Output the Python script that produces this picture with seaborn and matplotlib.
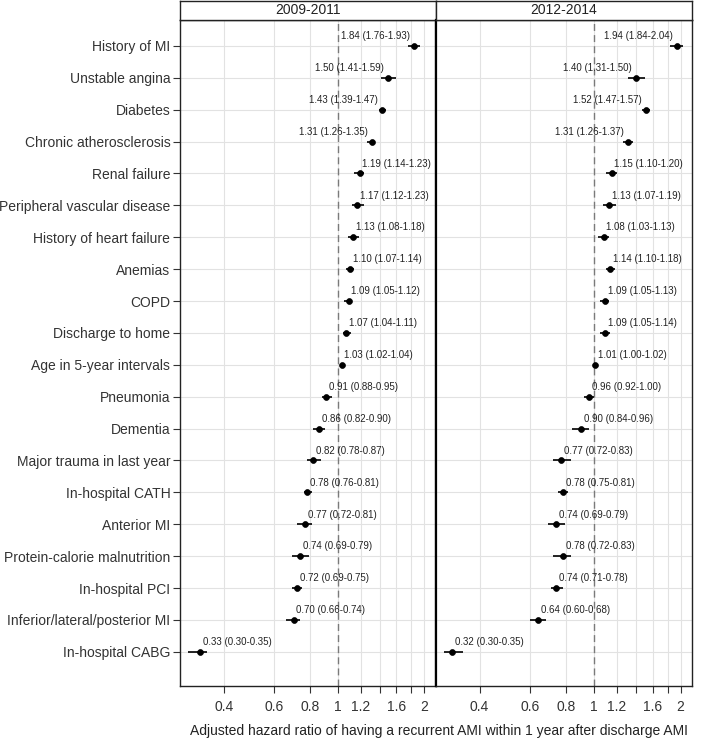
import numpy as np
import pandas as pd
import matplotlib
matplotlib.use("Agg")
import matplotlib.pyplot as plt
from matplotlib.ticker import NullLocator, FixedLocator, FixedFormatter
import seaborn as sns

sns.set_theme(style="white")
plt.rcParams['font.family'] = ['Liberation Sans', 'DejaVu Sans']

factors = [
    "History of MI", "Unstable angina", "Diabetes", "Chronic atherosclerosis",
    "Renal failure", "Peripheral vascular disease", "History of heart failure",
    "Anemias", "COPD", "Discharge to home", "Age in 5-year intervals",
    "Pneumonia", "Dementia", "Major trauma in last year", "In-hospital CATH",
    "Anterior MI", "Protein-calorie malnutrition", "In-hospital PCI",
    "Inferior/lateral/posterior MI", "In-hospital CABG",
]
periods = ["2009-2011", "2012-2014"]

hr_0911 = [1.84, 1.50, 1.43, 1.31, 1.19, 1.17, 1.13, 1.10, 1.09, 1.07,
           1.03, 0.91, 0.86, 0.82, 0.78, 0.77, 0.74, 0.72, 0.70, 0.33]
lo_0911 = [1.76, 1.41, 1.39, 1.26, 1.14, 1.12, 1.08, 1.07, 1.05, 1.04,
           1.02, 0.88, 0.82, 0.78, 0.76, 0.72, 0.69, 0.69, 0.66, 0.30]
hi_0911 = [1.93, 1.59, 1.47, 1.35, 1.23, 1.23, 1.18, 1.14, 1.12, 1.11,
           1.04, 0.95, 0.90, 0.87, 0.81, 0.81, 0.79, 0.75, 0.74, 0.35]

hr_1214 = [1.94, 1.40, 1.52, 1.31, 1.15, 1.13, 1.08, 1.14, 1.09, 1.09,
           1.01, 0.96, 0.90, 0.77, 0.78, 0.74, 0.78, 0.74, 0.64, 0.32]
lo_1214 = [1.84, 1.31, 1.47, 1.26, 1.10, 1.07, 1.03, 1.10, 1.05, 1.05,
           1.00, 0.92, 0.84, 0.72, 0.75, 0.69, 0.72, 0.71, 0.60, 0.30]
hi_1214 = [2.04, 1.50, 1.57, 1.37, 1.20, 1.19, 1.13, 1.18, 1.13, 1.14,
           1.02, 1.00, 0.96, 0.83, 0.81, 0.79, 0.83, 0.78, 0.68, 0.35]

x_ticks = [0.4, 0.6, 0.8, 1, 1.2, 1.4, 1.6, 1.8, 2]
x_tick_labels = ["0.4", "0.6", "0.8", "1", "1.2", "", "1.6", "", "2"]

frames = []
for period, hr, lo, hi in [(periods[0], hr_0911, lo_0911, hi_0911),
                           (periods[1], hr_1214, lo_1214, hi_1214)]:
    frames.append(pd.DataFrame({"factor": factors, "period": period,
                                "hr": hr, "lo": lo, "hi": hi,
                                "pos": np.arange(len(factors))}))
df = pd.concat(frames, ignore_index=True)

W, H = 709, 742
fig = plt.figure(figsize=(W / 100, H / 100), dpi=100)
fig.patch.set_facecolor("white")


def rect(x0, y0, x1, y1):
    return [x0 / W, 1 - y1 / H, (x1 - x0) / W, (y1 - y0) / H]


panel_px = [(180, 435.5), (435.5, 692)]
top_px, bot_px = 20, 686
tick_col = "#333333"

for i, period in enumerate(periods):
    x0, x1 = panel_px[i]
    ax = fig.add_axes(rect(x0, top_px, x1, bot_px))
    sub = df[df.period == period]
    ax.set_xscale("log")
    ax.set_xlim(0.281, 2.19)
    ax.set_ylim(20.07, -0.81)

    ax.xaxis.set_major_locator(FixedLocator(x_ticks))
    ax.xaxis.set_major_formatter(FixedFormatter(x_tick_labels))
    ax.xaxis.set_minor_locator(NullLocator())
    ax.set_yticks(sub.pos)
    if i == 0:
        ax.set_yticklabels(sub.factor)
    else:
        ax.set_yticklabels([])
    ax.grid(True, color="#e2e2e2", lw=0.8, zorder=0)
    ax.set_axisbelow(True)

    ax.axvline(1, color="#7a7a7a", ls=(0, (5, 3)), lw=1.0, zorder=1)
    ax.hlines(sub.pos, sub.lo, sub.hi, color="black", lw=1.2, zorder=2)
    sns.scatterplot(data=sub, x="hr", y="pos", ax=ax, color="black", s=18,
                    edgecolor="black", linewidth=0.5, zorder=3, legend=False)

    for _, r in sub.iterrows():
        txt = f"{r.hr:.2f} ({r.lo:.2f}-{r.hi:.2f})"
        if r.hr > 1.25:
            ha, dx = "right", -3
        else:
            ha, dx = "left", 2
        ax.annotate(txt, (r.hr, r.pos), xytext=(dx, 7), textcoords="offset points",
                    ha=ha, va="center", fontsize=7, color="#222222")

    ax.set_xlabel("")
    ax.set_ylabel("")
    for s in ax.spines.values():
        s.set_color("#222222")
        s.set_linewidth(1.0)
    if i == 0:
        ax.spines["right"].set_color("black")
        ax.spines["right"].set_linewidth(1.6)
    else:
        ax.spines["left"].set_color("black")
        ax.spines["left"].set_linewidth(1.6)
    ax.tick_params(axis="x", length=5, width=0.8, color=tick_col, labelcolor=tick_col,
                   labelsize=10, pad=5, bottom=True)
    ax.tick_params(axis="y", length=5 if i == 0 else 0, width=0.8, color=tick_col,
                   labelcolor=tick_col, labelsize=10, pad=2, left=(i == 0))

    hax = fig.add_axes(rect(x0, 1, x1, top_px))
    hax.set_xticks([])
    hax.set_yticks([])
    hax.set_facecolor("white")
    for s in hax.spines.values():
        s.set_color("#222222")
        s.set_linewidth(1.0)
    hax.text(0.5, 0.5, period, ha="center", va="center", fontsize=10,
             color="#222222", transform=hax.transAxes)

fig.text(439 / W, 1 - 731 / H,
         "Adjusted hazard ratio of having a recurrent AMI within 1 year after discharge AMI",
         ha="center", va="center", fontsize=10, color="#222222")

fig.savefig("out.png", dpi=100, facecolor="white")
